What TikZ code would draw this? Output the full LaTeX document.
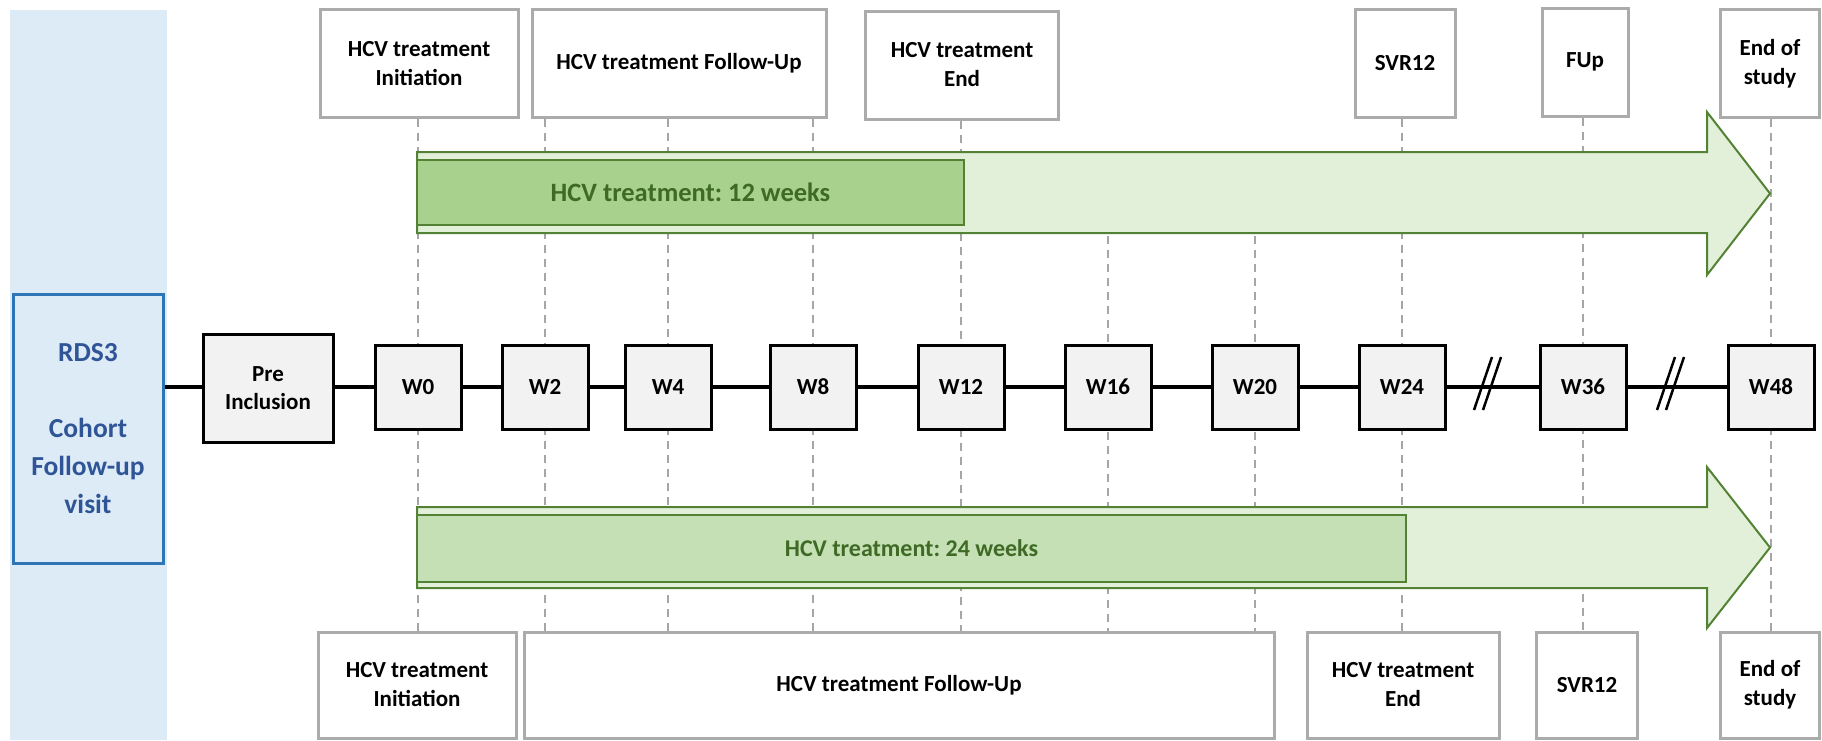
\documentclass[tikz,border=0pt]{standalone}
\usepackage{fontspec}
\setmainfont{Carlito}
\usepackage{tikz}
\frenchspacing
\definecolor{bandblue}{HTML}{DDEBF7}
\definecolor{rdsblue}{HTML}{2E75B6}
\definecolor{rdstext}{HTML}{2F5597}
\definecolor{visitgray}{HTML}{F2F2F2}
\definecolor{framegray}{HTML}{ABABAB}
\definecolor{dashgray}{HTML}{A6A6A6}
\definecolor{armfill}{HTML}{E2F0D9}
\definecolor{armline}{HTML}{548235}
\definecolor{txfilla}{HTML}{A9D18E}
\definecolor{txfillb}{HTML}{C5E0B4}
\definecolor{txtext}{HTML}{3F6A26}
\tikzstyle{visit}=[rectangle,line width=3pt,draw=black,fill=visitgray,
minimum width=86pt,minimum height=84pt,inner sep=0pt,align=center,
font=\fontsize{23}{28}\selectfont\bfseries]
\tikzstyle{milestone}=[rectangle,line width=3pt,draw=framegray,fill=white,
minimum height=108pt,inner sep=0pt,align=center,
font=\fontsize{23}{29}\selectfont\bfseries]
\tikzstyle{cohort}=[rectangle,line width=3pt,draw=rdsblue,text=rdstext,
minimum width=150pt,minimum height=269pt,inner sep=0pt,align=center,
font=\fontsize{27.5}{38}\selectfont\bfseries]
\tikzstyle{txbar}=[rectangle,line width=2pt,draw=armline,text=txtext,
inner sep=0pt,font=\fontsize{24}{28}\selectfont\bfseries]
\tikzstyle{arm}=[line width=2pt,draw=armline,fill=armfill,line join=miter]
\tikzstyle{guide}=[line width=1.5pt,dashgray,dash pattern=on 8pt off 6pt]
\tikzstyle{tline}=[line width=3.5pt]
\tikzstyle{brk}=[line width=2.5pt]
\usetikzlibrary{backgrounds}

\begin{document}
\begin{tikzpicture}[x=1pt,y=-1pt]
            \useasboundingbox (0,0) rectangle (1822,740);

            % VISITS PART

            \node[cohort]                          (rds)  at (88,428.5) {RDS3\\[38pt]Cohort\\Follow-up\\visit};
            \node[visit,minimum width=130pt,minimum height=108pt] (pre) at (268,388) {Pre\\Inclusion};
            \node[visit]                           (w0)   at (418,387)  {W0};
            \node[visit]                           (w2)   at (545,387)  {W2};
            \node[visit]                           (w4)   at (668,387)  {W4};
            \node[visit]                           (w8)   at (813,387)  {W8};
            \node[visit]                           (w12)  at (961,387)  {W12};
            \node[visit]                           (w16)  at (1108,387) {W16};
            \node[visit]                           (w20)  at (1255,387) {W20};
            \node[visit]                           (w24)  at (1402,387) {W24};
            \node[visit]                           (w36)  at (1583,387) {W36};
            \node[visit]                           (w48)  at (1771,387) {W48};

            \path[tline] (rds.east |- w0) edge (pre.west |- w0);
            \path[tline] (pre.east |- w0) edge (w0);
            \path[tline] (w0) edge (w2);
            \path[tline] (w2) edge (w4);
            \path[tline] (w4) edge (w8);
            \path[tline] (w8) edge (w12);
            \path[tline] (w12) edge (w16);
            \path[tline] (w16) edge (w20);
            \path[tline] (w20) edge (w24);
            \path[tline] (w24) edge (w36);
            \path[tline] (w36) edge (w48);

            % breaks
            \coordinate (brka) at (1487,384);
            \coordinate (brkb) at (1670,384);
            \draw[brk] (brka) ++(-13,26) -- ++(18,-53);
            \draw[brk] (brka) ++(-4,26) -- ++(18,-53);
            \draw[brk] (brkb) ++(-13,26) -- ++(18,-53);
            \draw[brk] (brkb) ++(-4,26) -- ++(18,-53);

            % TOP MILESTONES

            \node[milestone,minimum width=198pt] (tinit) at (419,63.5)  {HCV treatment\\Initiation};
            \node[milestone,minimum width=294pt] (tfu)   at (679,63.5)  {HCV treatment Follow-Up};
            \node[milestone,minimum width=193pt] (tend)  at (962,65)    {HCV treatment\\End};
            \node[milestone,minimum width=100pt] (tsvr)  at (1405,63.5) {SVR12};
            \node[milestone,minimum width=86pt]  (tfup)  at (1585,62)   {FUp};
            \node[milestone,minimum width=99pt]  (teos)  at (1770,63.5) {End of\\study};

            % BOTTOM MILESTONES

            \node[milestone,minimum width=198pt,minimum height=106pt] (binit) at (417,685)  {HCV treatment\\Initiation};
            \node[milestone,minimum width=750pt,minimum height=106pt] (bfu)   at (899,685)  {HCV treatment Follow-Up};
            \node[milestone,minimum width=192pt,minimum height=106pt] (bend)  at (1403,685) {HCV treatment\\End};
            \node[milestone,minimum width=101pt,minimum height=106pt] (bsvr)  at (1587,685) {SVR12};
            \node[milestone,minimum width=99pt,minimum height=106pt]  (beos)  at (1770,685) {End of\\study};

            % TREATMENT ARMS

            \coordinate (atop) at (417,152);
            \draw[arm] (atop) -- (1707,152) -- (1707,112) -- (1770,193.5)
                -- (1707,275) -- (1707,233) -- (417,233) -- cycle;
            \node[txbar,fill=txfilla,minimum width=547pt,minimum height=65pt,
                font=\fontsize{26.5}{30}\selectfont\bfseries] (tx12) at (690.5,192.5) {HCV treatment: 12 weeks};

            \coordinate (abot) at (417,507);
            \draw[arm] (abot) -- (1707,507) -- (1707,467) -- (1770,547.5)
                -- (1707,628) -- (1707,588) -- (417,588) -- cycle;
            \node[txbar,fill=txfillb,minimum width=989pt,minimum height=67pt] (tx24) at (911.5,548.5) {HCV treatment: 24 weeks};

            % GUIDES
            \begin{pgfonlayer}{background}
            \fill[bandblue] (10,10) rectangle (167,740);
            \draw[guide] (w0 |- tinit.south) -- (w0 |- binit.north);
            \draw[guide] (w2 |- tfu.south) -- (w2 |- bfu.north);
            \draw[guide] (w4 |- tfu.south) -- (w4 |- bfu.north);
            \draw[guide] (w8 |- tfu.south) -- (w8 |- bfu.north);
            \draw[guide] (w12 |- tend.south) -- (w12 |- bfu.north);
            \draw[guide] (w16 |- atop) -- (w16 |- bfu.north);
            \draw[guide] (w20 |- atop) -- (w20 |- bfu.north);
            \draw[guide] (w24 |- tsvr.south) -- (w24 |- bend.north);
            \draw[guide] (w36 |- tfup.south) -- (w36 |- bsvr.north);
            \draw[guide] (w48 |- teos.south) -- (w48 |- beos.north);
            \end{pgfonlayer}

\end{tikzpicture}
\end{document}
